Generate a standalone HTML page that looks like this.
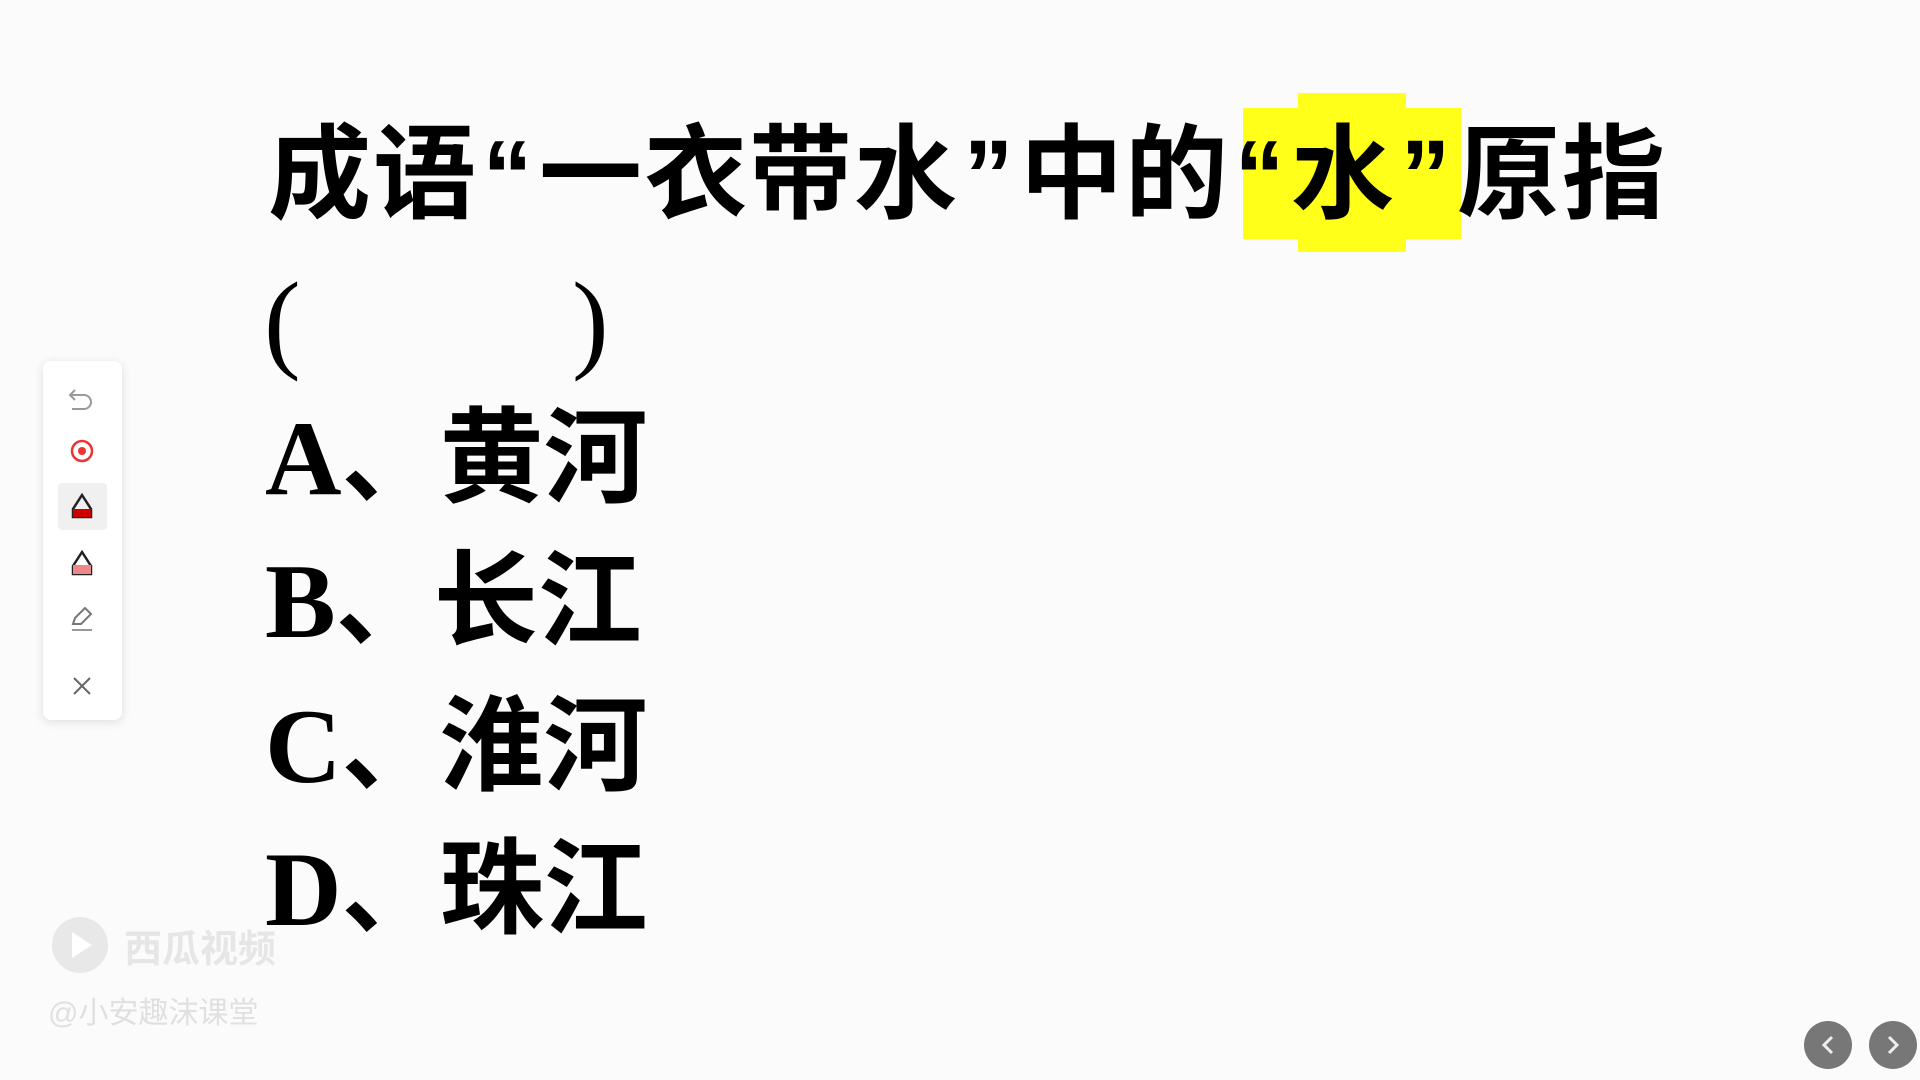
<!DOCTYPE html>
<html><head><meta charset="utf-8"><style>
html,body{margin:0;padding:0;}
body{width:1920px;height:1080px;background:#fbfbfb;position:relative;overflow:hidden;}
.a{position:absolute;white-space:nowrap;}
.t{font-family:"Noto Sans CJK SC",sans-serif;font-weight:700;font-size:103px;line-height:100px;color:#000;}
.t span{display:inline-block;width:105px;text-align:center;}
.t span.q{width:61px;font-family:"Liberation Sans",sans-serif;font-size:100px;}
.o{font-family:"Liberation Serif","Noto Sans CJK SC",serif;font-weight:700;font-size:106px;line-height:106px;color:#000;}
.o .c{font-family:"Noto Sans CJK SC",sans-serif;font-size:104px;}
.o .p{font-family:"Noto Sans CJK SC",sans-serif;font-size:98px;}
</style></head><body>
<div class="a" style="left:1243px;top:108px;width:218px;height:131px;background:#ffff1a"></div>
<div class="a" style="left:1298px;top:93px;width:108px;height:159px;background:#ffff1a"></div>
<div class="a t" style="left:267px;top:116px"><span>成</span><span>语</span><span class="q">“</span><span>一</span><span>衣</span><span>带</span><span>水</span><span class="q">”</span><span>中</span><span>的</span><span class="q">“</span><span>水</span><span class="q">”</span><span>原</span><span>指</span></div>
<div class="a o" style="left:264px;top:268px;font-weight:400;font-size:110px">(</div>
<div class="a o" style="left:572px;top:268px;font-weight:400;font-size:110px">)</div>
<div class="a o" style="left:265px;top:396px">A<span class="p">、</span><span class="c">黄河</span></div>
<div class="a o" style="left:265px;top:539px">B<span class="p">、</span><span class="c">长江</span></div>
<div class="a o" style="left:265px;top:684px">C<span class="p">、</span><span class="c">淮河</span></div>
<div class="a o" style="left:265px;top:827px">D<span class="p">、</span><span class="c">珠江</span></div>

<div class="a" style="left:43px;top:361px;width:79px;height:359px;background:#fff;border-radius:8px;box-shadow:0 2px 10px rgba(0,0,0,0.12)"></div>
<div class="a" style="left:58px;top:483px;width:49px;height:47px;background:#f0f0f0;border-radius:4px"></div>
<svg class="a" style="left:43px;top:361px" width="79" height="359" viewBox="0 0 79 359">
<path d="M32 29 l-5 5 5 5 M27 34 h14 a7 7 0 0 1 0 14 h-12" fill="none" stroke="#999" stroke-width="2"/>
<circle cx="39" cy="90" r="10" fill="none" stroke="#e33" stroke-width="2.5"/><circle cx="39" cy="90" r="4" fill="#e33"/>
<path d="M39 134 l9 14 v8 h-18 v-8 z" fill="none" stroke="#222" stroke-width="2.5"/><rect x="30" y="148" width="18" height="8" fill="#c00"/>
<path d="M39 191 l9 14 v8 h-18 v-8 z" fill="none" stroke="#222" stroke-width="2.5"/><rect x="30" y="204" width="18" height="9" fill="#e88"/>
<path d="M32 257 l10 -10 6 6 -10 10 h-8 z" fill="none" stroke="#777" stroke-width="2"/><path d="M29 269 h20" stroke="#999" stroke-width="2"/>
<path d="M31 317 l16 16 M47 317 l-16 16" stroke="#666" stroke-width="2"/>
</svg>

<div class="a" style="left:52px;top:917px;width:56px;height:56px;border-radius:50%;background:#e8e8e8"></div>
<div class="a" style="left:72px;top:932px;width:0;height:0;border-left:20px solid #fff;border-top:13px solid transparent;border-bottom:13px solid transparent"></div>
<div class="a" style="left:124px;top:924px;font-family:'Noto Sans CJK SC',sans-serif;font-size:38px;font-weight:700;color:#e6e6e6;line-height:44px">西瓜视频</div>
<div class="a" style="left:48px;top:996px;font-family:'Liberation Sans','Noto Sans CJK SC',sans-serif;font-size:30px;color:#e0e0e0;line-height:36px">@小安趣沫课堂</div>

<svg class="a" style="left:1796px;top:1013px" width="124" height="64">
<circle cx="32" cy="32" r="24" fill="#777"/><circle cx="97" cy="32" r="24" fill="#777"/>
<path d="M36 24 l-8 8 8 8" fill="none" stroke="#eee" stroke-width="3"/>
<path d="M93 24 l8 8 -8 8" fill="none" stroke="#eee" stroke-width="3"/>
</svg>
</body></html>
